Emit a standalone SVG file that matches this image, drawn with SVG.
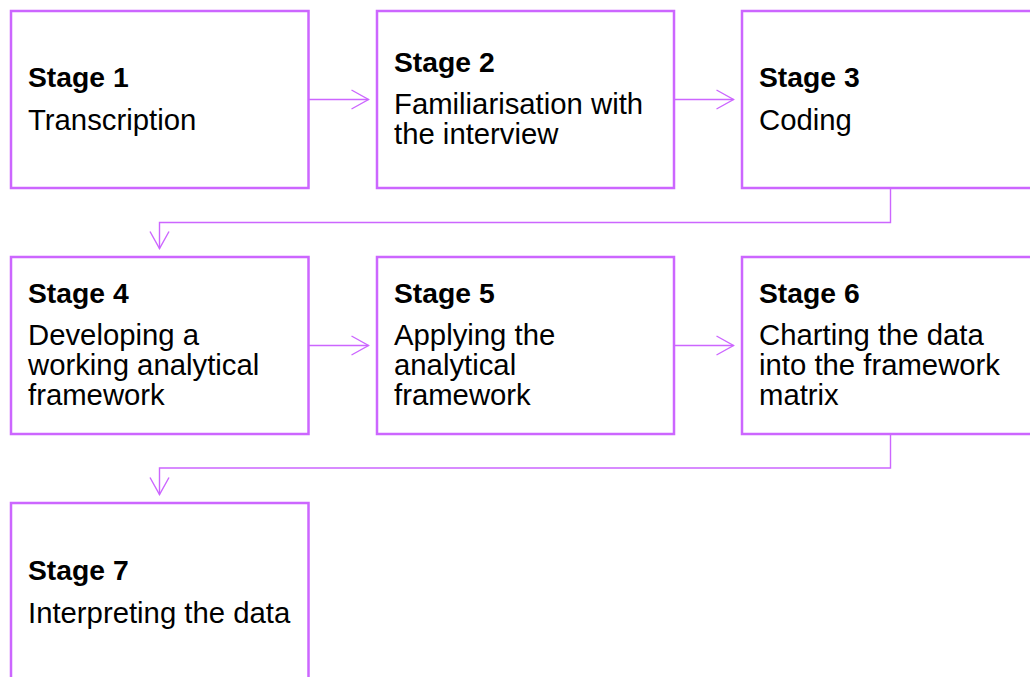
<svg xmlns="http://www.w3.org/2000/svg" width="1030" height="677" viewBox="0 0 1030 677">
  <style>
    .box { fill: #ffffff; stroke: #CC66FF; stroke-width: 2.5; }
    .link { fill: none; stroke: #CC66FF; stroke-width: 1.4; }
    .title { font-family: "Liberation Sans", Arial, sans-serif; font-weight: bold; font-size: 28.3px; fill: #000000; }
    .body { font-family: "Liberation Sans", Arial, sans-serif; font-size: 29.3px; fill: #000000; }
  </style>
  <defs>
    <marker id="open-arrow" markerUnits="userSpaceOnUse" markerWidth="20" markerHeight="22" viewBox="0 0 20 22" refX="18" refY="11" orient="auto">
      <path d="M1,1.5 L18,11 L1,20.5" fill="none" stroke="#CC66FF" stroke-width="1.4"/>
    </marker>
  </defs>
  <rect width="1030" height="677" fill="#ffffff"/>

  <!-- connectors -->
  <g id="connectors">
    <path class="link" d="M309,99.5 H368.5" marker-end="url(#open-arrow)"/>
    <path class="link" d="M674,99.5 H733.5" marker-end="url(#open-arrow)"/>
    <path class="link" d="M890.5,188 V222.5 H159.5 V248.5" marker-end="url(#open-arrow)"/>
    <path class="link" d="M309,345.5 H368.5" marker-end="url(#open-arrow)"/>
    <path class="link" d="M674,345.5 H733.5" marker-end="url(#open-arrow)"/>
    <path class="link" d="M890.5,434 V468 H159.5 V494.5" marker-end="url(#open-arrow)"/>
  </g>

  <!-- stage boxes -->
  <g id="stage1">
    <rect class="box" x="11" y="11" width="297.5" height="177"/>
    <text class="title" x="28" y="87">Stage 1</text>
    <text class="body" x="28" y="130">Transcription</text>
  </g>
  <g id="stage2">
    <rect class="box" x="377" y="11" width="297" height="177"/>
    <text class="title" x="394" y="72">Stage 2</text>
    <text class="body" x="394" y="114">Familiarisation with</text>
    <text class="body" x="394" y="144">the interview</text>
  </g>
  <g id="stage3">
    <rect class="box" x="742" y="11" width="297" height="177"/>
    <text class="title" x="759" y="87">Stage 3</text>
    <text class="body" x="759" y="130">Coding</text>
  </g>
  <g id="stage4">
    <rect class="box" x="11" y="257" width="297.5" height="177"/>
    <text class="title" x="28" y="303">Stage 4</text>
    <text class="body" x="28" y="345">Developing a</text>
    <text class="body" x="28" y="375">working analytical</text>
    <text class="body" x="28" y="405">framework</text>
  </g>
  <g id="stage5">
    <rect class="box" x="377" y="257" width="297" height="177"/>
    <text class="title" x="394" y="303">Stage 5</text>
    <text class="body" x="394" y="345">Applying the</text>
    <text class="body" x="394" y="375">analytical</text>
    <text class="body" x="394" y="405">framework</text>
  </g>
  <g id="stage6">
    <rect class="box" x="742" y="257" width="297" height="177"/>
    <text class="title" x="759" y="303">Stage 6</text>
    <text class="body" x="759" y="345">Charting the data</text>
    <text class="body" x="759" y="375">into the framework</text>
    <text class="body" x="759" y="405">matrix</text>
  </g>
  <g id="stage7">
    <rect class="box" x="11" y="503" width="297.5" height="177"/>
    <text class="title" x="28" y="580">Stage 7</text>
    <text class="body" x="28" y="623">Interpreting the data</text>
  </g>
</svg>
